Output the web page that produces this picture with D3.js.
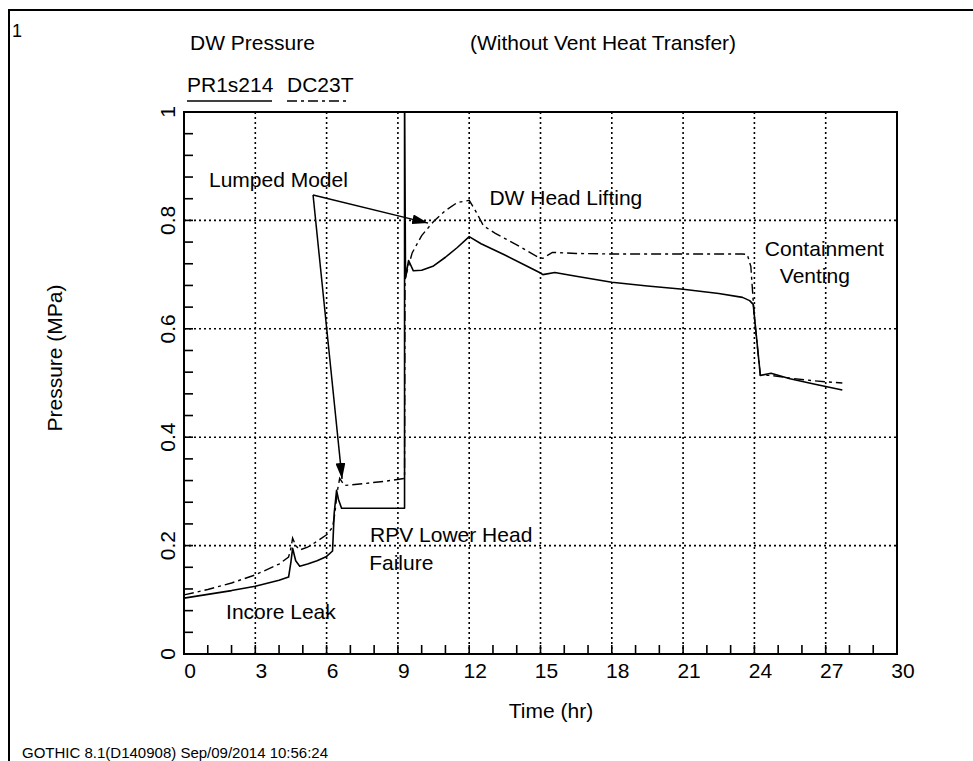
<!DOCTYPE html>
<html>
<head>
<meta charset="utf-8">
<script src="https://cdn.jsdelivr.net/npm/d3@7"></script>
<style>
  html, body { margin: 0; padding: 0; background: #fff; }
  svg { display: block; font-family: "Liberation Sans", Arial, sans-serif; }
</style>
</head>
<body>
<svg id="chart" width="973" height="761"></svg>
<script>
// Drywell pressure history, time in hours, pressure in MPa
const timeSolid = [0, 1, 2, 3, 4, 4.4, 4.5, 4.57, 4.7, 4.87, 5.2, 5.6, 6.0, 6.25, 6.32, 6.42, 6.5, 6.63, 7.5, 8.5, 9.28,
  9.28, 9.32, 9.45, 9.65, 10.0, 10.5, 11.0, 11.5, 12.0, 12.5, 13.5, 14.5, 15.0, 15.1, 15.6, 16.5, 18.0, 19.5, 21.0, 22.5,
  23.5, 23.8, 23.95, 24.25, 24.7, 25.5, 26.5, 27.7];
const pressSolid = [0.103, 0.110, 0.117, 0.125, 0.136, 0.142, 0.170, 0.195, 0.172, 0.162, 0.166, 0.172, 0.180, 0.190, 0.260, 0.302, 0.285, 0.269, 0.269, 0.269, 0.269,
  1.05, 0.695, 0.726, 0.707, 0.708, 0.716, 0.732, 0.750, 0.770, 0.757, 0.736, 0.714, 0.703, 0.700, 0.704, 0.697, 0.686, 0.679, 0.673, 0.665,
  0.658, 0.652, 0.645, 0.514, 0.518, 0.508, 0.498, 0.487];

const timeDash = [0, 1, 2, 3, 4, 4.4, 4.5, 4.57, 4.7, 4.87, 5.2, 5.6, 6.0, 6.25, 6.35, 6.45, 6.55, 6.75, 7.5, 8.5, 9.28,
  9.3, 9.35, 9.6, 10.0, 10.5, 11.0, 11.5, 12.0, 12.3, 12.6, 13.1, 14.0, 14.9, 15.1, 15.5, 16.5, 18, 20, 22, 23.5,
  23.7, 23.85, 24.0, 24.25, 24.7, 25.5, 26.5, 27.7];
const pressDash = [0.109, 0.119, 0.131, 0.146, 0.166, 0.179, 0.195, 0.214, 0.200, 0.192, 0.197, 0.208, 0.220, 0.234, 0.260, 0.300, 0.324, 0.311, 0.314, 0.319, 0.324,
  0.690, 0.700, 0.740, 0.772, 0.798, 0.818, 0.833, 0.837, 0.815, 0.790, 0.776, 0.755, 0.732, 0.730, 0.741, 0.739, 0.738, 0.738, 0.738, 0.738,
  0.737, 0.715, 0.620, 0.514, 0.514, 0.509, 0.504, 0.500];

const xTicks = [0, 3, 6, 9, 12, 15, 18, 21, 24, 27, 30];
const yTicks = [0, 0.2, 0.4, 0.6, 0.8, 1];
const seriesNames = ["PR1s214", "DC23T"];

const svg = d3.select("#chart");
const x = d3.scaleLinear().domain([0, 30]).range([184, 897]);
const y = d3.scaleLinear().domain([0, 1]).range([654, 112]);
const FS = 21;
const dashPattern = "10,4,3,4";

// page frame
svg.append("path").attr("d", "M9,761 L9,10 L973,10")
  .attr("fill", "none").attr("stroke", "#000").attr("stroke-width", 2);

svg.append("text").attr("x", 12).attr("y", 37).attr("font-size", 18).text("1");

// titles
svg.append("text").attr("x", 190).attr("y", 50).attr("font-size", FS).text("DW Pressure");
svg.append("text").attr("x", 470).attr("y", 50).attr("font-size", FS).text("(Without Vent Heat Transfer)");

// legend
svg.append("text").attr("x", 187).attr("y", 92).attr("font-size", FS).text(seriesNames[0]);
svg.append("text").attr("x", 287).attr("y", 92).attr("font-size", FS).text(seriesNames[1]);
svg.append("line").attr("x1", 187).attr("x2", 272).attr("y1", 101).attr("y2", 101)
  .attr("stroke", "#000").attr("stroke-width", 1.6);
svg.append("line").attr("x1", 287).attr("x2", 349).attr("y1", 101).attr("y2", 101)
  .attr("stroke", "#000").attr("stroke-width", 1.6).attr("stroke-dasharray", dashPattern);

// dotted grid
const grid = svg.append("g").attr("stroke", "#000").attr("stroke-width", 1.6).attr("stroke-dasharray", "2,3");
grid.selectAll("line.vx").data(xTicks.filter(t => t > 0 && t < 30)).join("line")
  .attr("x1", d => x(d)).attr("x2", d => x(d)).attr("y1", y(1)).attr("y2", y(0));
grid.selectAll("line.hy").data(yTicks.filter(t => t > 0 && t < 1)).join("line")
  .attr("y1", d => y(d)).attr("y2", d => y(d)).attr("x1", x(0)).attr("x2", x(30));

// minor ticks
const tickG = svg.append("g").attr("stroke", "#000").attr("stroke-width", 1.6);
tickG.selectAll("line.tx").data(d3.range(1, 30)).join("line")
  .attr("x1", d => x(d)).attr("x2", d => x(d)).attr("y1", y(0)).attr("y2", y(0) - 9);
tickG.selectAll("line.ty").data(d3.range(1, 25).map(i => i * 0.04)).join("line")
  .attr("x1", x(0)).attr("x2", x(0) + 9).attr("y1", d => y(d)).attr("y2", d => y(d));

// tick labels
svg.append("g").selectAll("text").data(xTicks).join("text")
  .attr("x", d => x(d) + 6).attr("y", 678).attr("text-anchor", "middle").attr("font-size", FS)
  .text(d => d);
svg.append("g").selectAll("text").data(yTicks).join("text")
  .attr("transform", d => `translate(175,${y(d)}) rotate(-90)`)
  .attr("text-anchor", "middle").attr("font-size", FS)
  .text(d => d3.format("~g")(d));

// axis titles
svg.append("text").attr("x", 551).attr("y", 718).attr("text-anchor", "middle").attr("font-size", FS).text("Time (hr)");
svg.append("text").attr("transform", "translate(62,358) rotate(-90)").attr("text-anchor", "middle")
  .attr("font-size", FS).text("Pressure (MPa)");

// curves, clipped to plot area
const defs = svg.append("defs");
defs.append("clipPath").attr("id", "plotClip")
  .append("rect").attr("x", x(0)).attr("y", y(1)).attr("width", x(30) - x(0)).attr("height", y(0) - y(1));
const line = d3.line().x(d => x(d[0])).y(d => y(d[1]));
const plot = svg.append("g").attr("clip-path", "url(#plotClip)");
plot.append("path").datum(d3.zip(timeSolid, pressSolid)).attr("d", line)
  .attr("fill", "none").attr("stroke", "#000").attr("stroke-width", 1.6).attr("stroke-linejoin", "round");
plot.append("path").datum(d3.zip(timeDash, pressDash)).attr("d", line)
  .attr("fill", "none").attr("stroke", "#000").attr("stroke-width", 1.4).attr("stroke-dasharray", dashPattern);

// plot frame
svg.append("rect").attr("x", x(0)).attr("y", y(1)).attr("width", x(30) - x(0)).attr("height", y(0) - y(1))
  .attr("fill", "none").attr("stroke", "#000").attr("stroke-width", 2);

// annotations
defs.append("marker").attr("id", "arrowHead")
  .attr("viewBox", "0 0 16 10").attr("refX", 16).attr("refY", 5)
  .attr("markerWidth", 16).attr("markerHeight", 10).attr("markerUnits", "userSpaceOnUse")
  .attr("orient", "auto")
  .append("path").attr("d", "M0,0 L16,5 L0,10 Z").attr("fill", "#000");

const origin = [5.43, 0.847];
const arrowTips = [[10.27, 0.795], [6.65, 0.323]];
arrowTips.forEach(tip => {
  svg.append("line").attr("x1", x(origin[0])).attr("y1", y(origin[1]))
    .attr("x2", x(tip[0])).attr("y2", y(tip[1]))
    .attr("stroke", "#000").attr("stroke-width", 1.5).attr("marker-end", "url(#arrowHead)");
});

const notes = [
  { t: 1.05, p: 0.862, s: "Lumped Model" },
  { t: 12.85, p: 0.828, s: "DW Head Lifting" },
  { t: 24.44, p: 0.734, s: "Containment" },
  { t: 25.07, p: 0.684, s: "Venting" },
  { t: 7.83, p: 0.206, s: "RPV Lower Head" },
  { t: 7.79, p: 0.155, s: "Failure" },
  { t: 1.77, p: 0.065, s: "Incore Leak" }
];
svg.append("g").selectAll("text").data(notes).join("text")
  .attr("x", d => x(d.t)).attr("y", d => y(d.p)).attr("font-size", FS).text(d => d.s);

// footer
svg.append("text").attr("x", 22).attr("y", 758).attr("font-size", 15)
  .text("GOTHIC 8.1(D140908) Sep/09/2014 10:56:24");
</script>
</body>
</html>
